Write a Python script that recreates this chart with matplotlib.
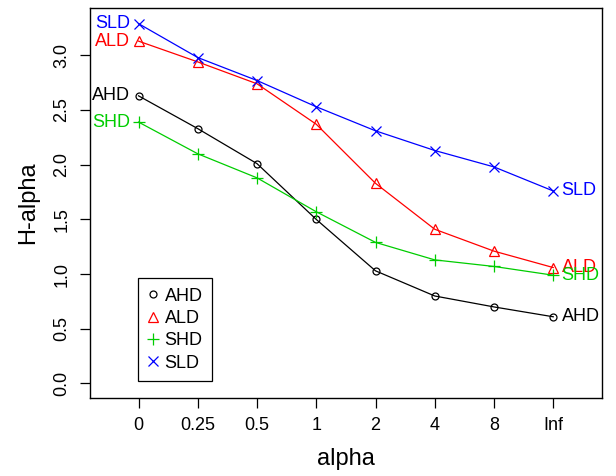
import matplotlib.pyplot as plt

plt.rcParams['font.family'] = ['Liberation Sans', 'DejaVu Sans']

# Data
alpha_labels = ['0', '0.25', '0.5', '1', '2', '4', '8', 'Inf']
series_names = ['AHD', 'ALD', 'SHD', 'SLD']
ahd = [2.63, 2.33, 2.01, 1.50, 1.03, 0.80, 0.70, 0.61]
ald = [3.13, 2.94, 2.74, 2.37, 1.83, 1.41, 1.21, 1.06]
shd = [2.39, 2.10, 1.88, 1.57, 1.29, 1.13, 1.07, 0.99]
sld = [3.29, 2.98, 2.77, 2.53, 2.31, 2.13, 1.98, 1.76]

colors = ['black', '#FF0000', '#00CD00', '#0000FF']
markers = ['o', '^', '+', 'x']
msizes = [5, 7.5, 9, 7]

x = list(range(1, len(alpha_labels) + 1))

fig = plt.figure(figsize=(6.16, 4.76), dpi=100)
ax = fig.add_axes([0.146, 0.164, 0.831, 0.819])

for name, vals, c, m, ms in zip(series_names, [ahd, ald, shd, sld], colors, markers, msizes):
    ax.plot(x, vals, color=c, linewidth=0.9, marker=m, markersize=ms,
            markerfacecolor='none', markeredgecolor=c, markeredgewidth=0.9,
            label=name)
    ax.annotate(name, (x[0], vals[0]), xytext=(-6, 0), textcoords='offset points',
                ha='right', va='center', color=c, fontsize=13)
    ax.annotate(name, (x[-1], vals[-1]), xytext=(6, 0), textcoords='offset points',
                ha='left', va='center', color=c, fontsize=13, annotation_clip=False)

# R-style axis extents (4% padding)
ax.set_xlim(0.5 - 0.32, 8.5 + 0.32)
ax.set_ylim(0 - 0.132, 3.3 + 0.132)
ax.set_xticks(x)
ax.set_xticklabels(alpha_labels)
ax.set_yticks([0, 0.5, 1.0, 1.5, 2.0, 2.5, 3.0])
ax.set_yticklabels(['0.0', '0.5', '1.0', '1.5', '2.0', '2.5', '3.0'], rotation=90, va='center')
ax.tick_params(labelsize=13, length=7, width=0.9, pad=7)
for s in ax.spines.values():
    s.set_linewidth(1.0)

ax.set_xlabel('alpha', fontsize=17, labelpad=10)
ax.set_ylabel('H-alpha', fontsize=17, labelpad=10)

leg_handles = []
for c, m, ms in zip(colors, markers, msizes):
    h, = ax.plot([], [], linestyle='none', marker=m, markersize=ms,
                 markerfacecolor='none', markeredgecolor=c, markeredgewidth=0.9)
    leg_handles.append(h)
leg = ax.legend(leg_handles, series_names, loc='lower left',
                bbox_to_anchor=(0.093, 0.044), borderaxespad=0,
                fancybox=False, edgecolor='black', framealpha=1,
                fontsize=13, handlelength=0.7, handletextpad=0.3,
                labelspacing=0.3, borderpad=0.5)
leg.get_frame().set_linewidth(0.9)

plt.savefig('out.png', dpi=100)
